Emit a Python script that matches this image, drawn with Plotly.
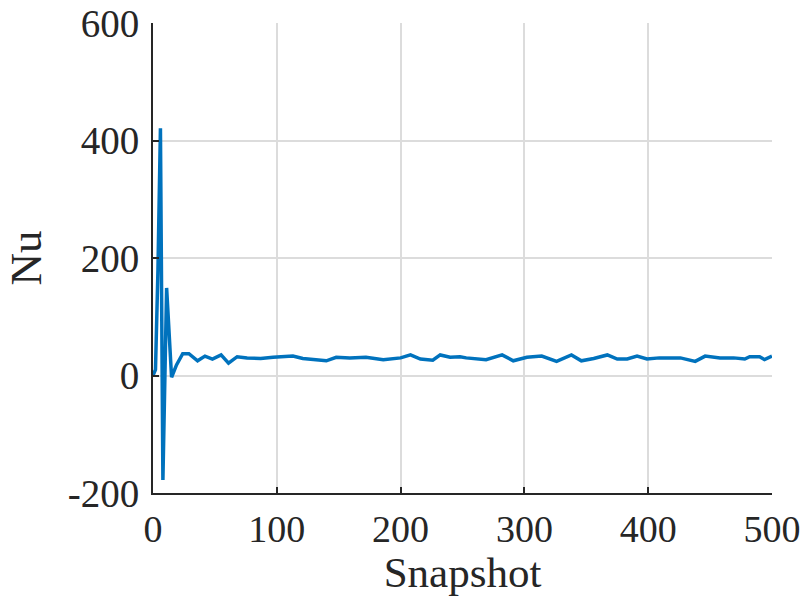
import plotly.graph_objects as go

snapshot = [0, 2, 4, 6, 8, 11, 15, 19, 24, 29, 36, 42, 48, 55, 61, 68, 76, 87, 97, 113,
            121, 140, 148, 159, 172, 186, 200, 208, 216, 226, 232, 240, 248, 253, 269,
            282, 291, 302, 314, 326, 338, 346, 356, 367, 375, 383, 391, 399, 409, 426,
            438, 446, 458, 469, 478, 482, 490, 494, 500]
nu = [0, 10, 180, 421, -178, 149, -3, 18, 37, 37, 25, 33, 28, 35, 21, 32, 30, 29, 31, 33,
      29, 25, 31, 30, 31, 27, 30, 35, 28, 26, 35, 31, 32, 30, 27, 35, 25, 31, 33, 24,
      35, 25, 29, 35, 28, 28, 33, 28, 30, 30, 24, 33, 30, 30, 28, 32, 32, 27, 33]

x_ticks = [0, 100, 200, 300, 400, 500]
y_ticks = [-200, 0, 200, 400, 600]

FONT = "Liberation Serif"
AXC = "#262626"

fig = go.Figure(go.Scatter(x=snapshot, y=nu, mode="lines",
                           line=dict(color="#0072BD", width=3.5), cliponaxis=False))

fig.update_layout(
    width=804, height=596,
    margin=dict(l=153, r=32, t=23, b=103),
    paper_bgcolor="white", plot_bgcolor="white",
    showlegend=False,
    font=dict(family=FONT, size=40, color=AXC),
    xaxis=dict(range=[0, 500.01], tickvals=x_ticks, ticktext=[str(v) for v in x_ticks],
               automargin=False, ticklabeloverflow="allow",
               tickfont=dict(size=38),
               showgrid=True, gridcolor="#dcdcdc", gridwidth=2,
               showline=True, linecolor=AXC, linewidth=2, mirror=False,
               ticks="inside", ticklen=6, tickwidth=2, tickcolor=AXC,
               zeroline=False, ticklabelstandoff=1,
               title=dict(text="Snapshot", standoff=9, font=dict(size=43))),
    yaxis=dict(range=[-200, 600.01], tickvals=y_ticks, ticktext=[str(v) for v in y_ticks],
               automargin=False, ticklabeloverflow="allow",
               tickfont=dict(size=39),
               showgrid=True, gridcolor="#dcdcdc", gridwidth=2,
               showline=True, linecolor=AXC, linewidth=2, mirror=False,
               ticks="inside", ticklen=6, tickwidth=2, tickcolor=AXC,
               zeroline=False, ticklabelstandoff=4,
               title=dict(text="Nu", standoff=12, font=dict(size=45))),
)

fig.write_html("out.html")
